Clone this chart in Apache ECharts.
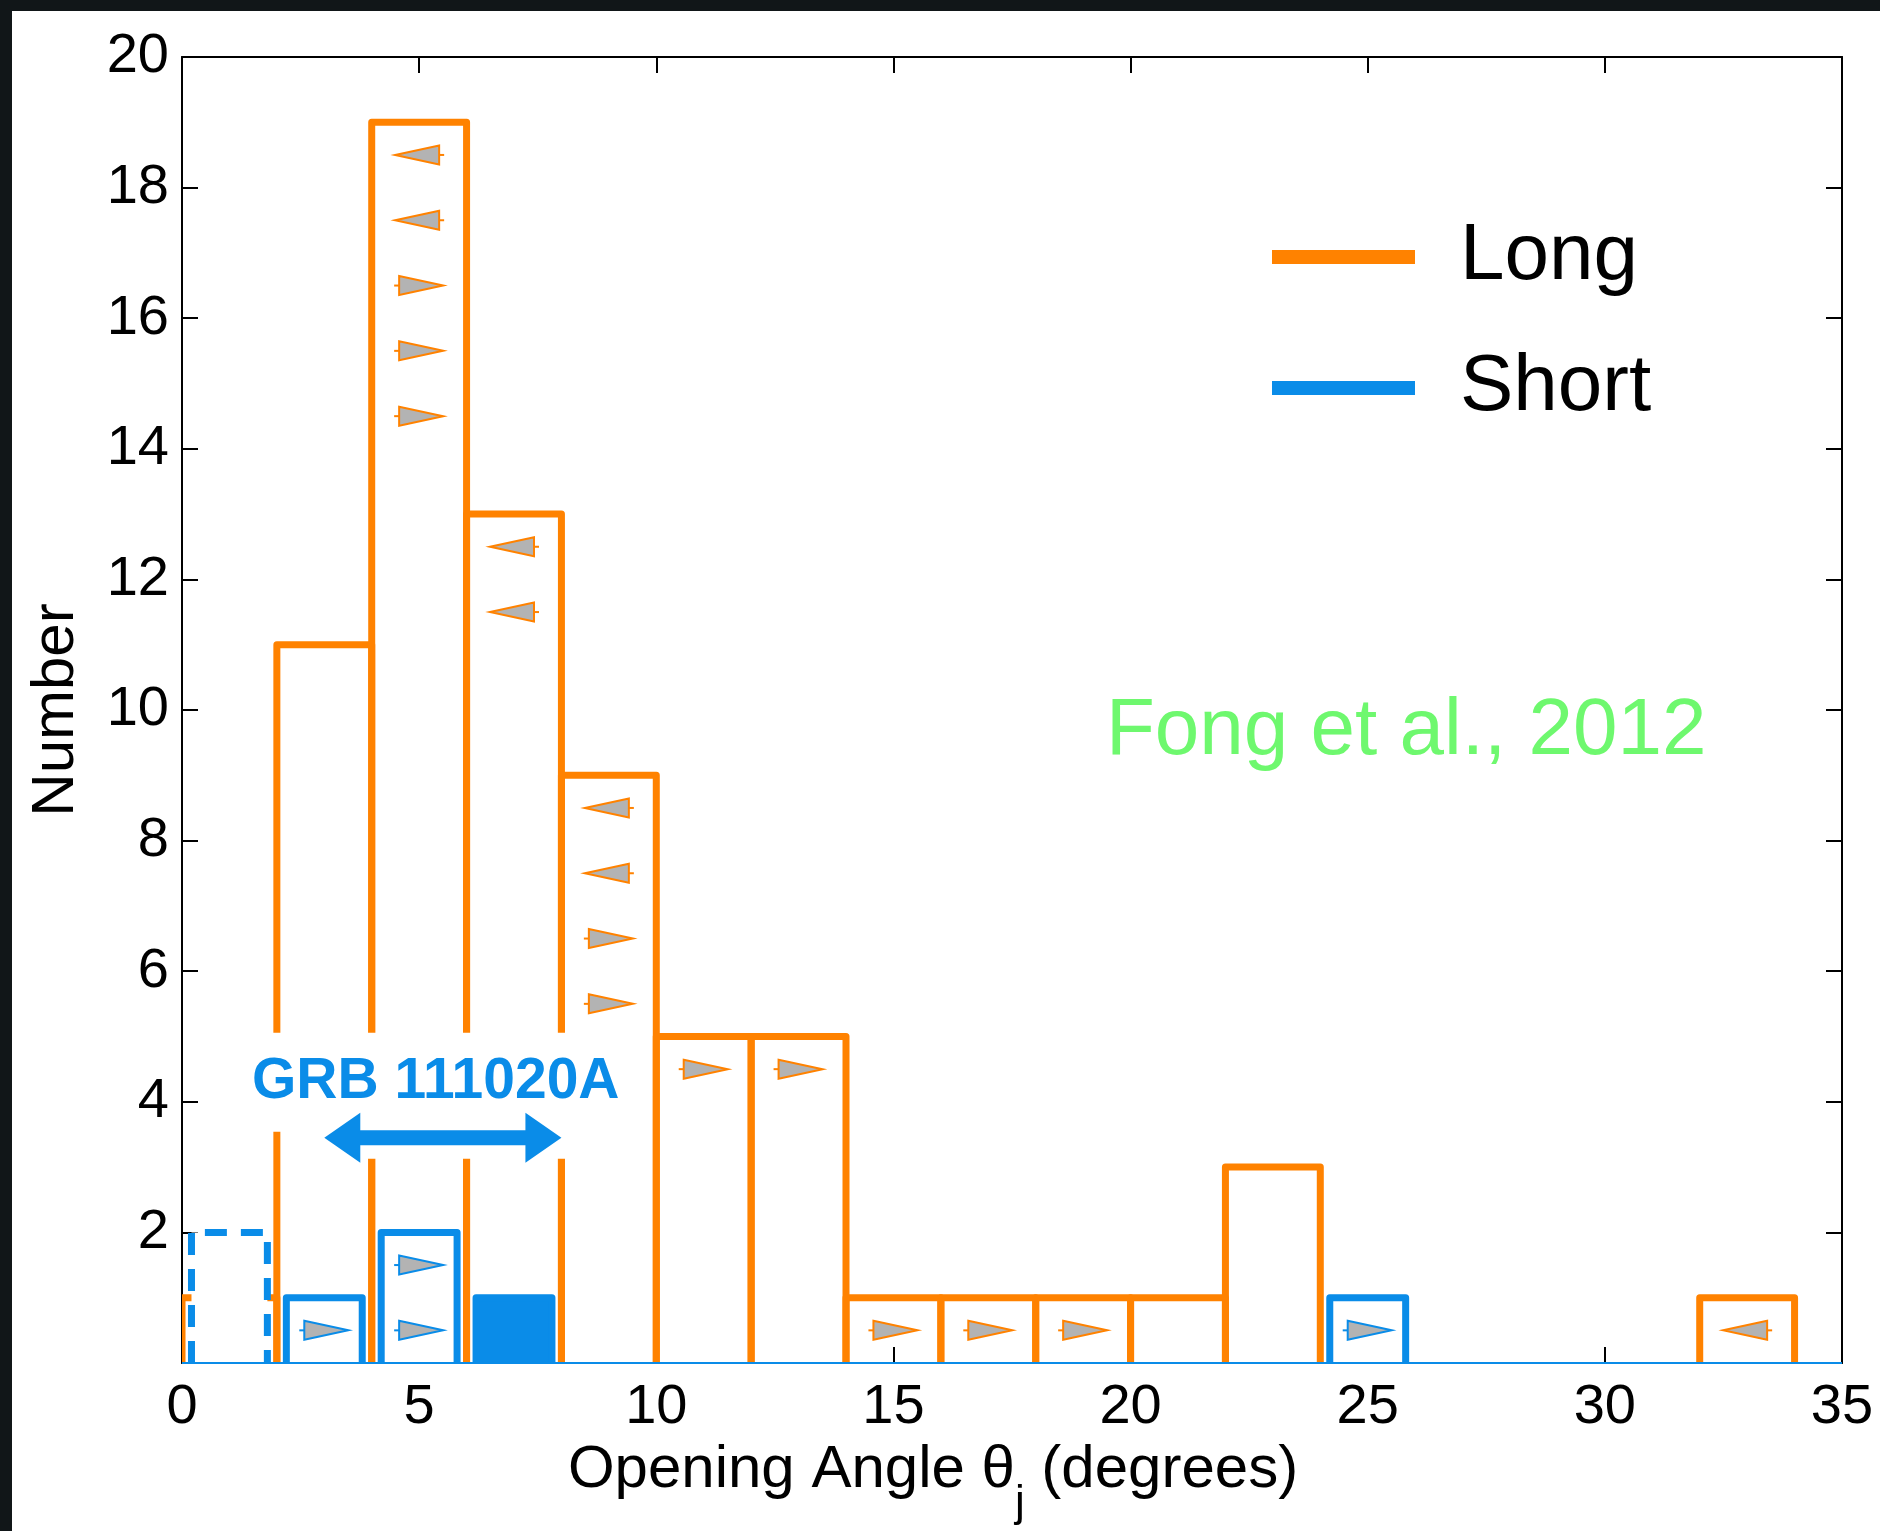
<!DOCTYPE html>
<html><head><meta charset="utf-8">
<script src="https://cdn.jsdelivr.net/npm/echarts@6/dist/echarts.min.js"></script>
<style>
html,body{margin:0;padding:0;background:#111618;width:1880px;height:1531px;overflow:hidden}
#chart{position:absolute;left:12px;top:11px;width:1868px;height:1520px;background:#fff}
</style></head><body><div id="chart"></div>
<script>
// Opening-angle histogram, 2-degree bins
const binStart = [0, 2, 4, 6, 8, 10, 12, 14, 16, 18, 20, 22, 24, 26, 28, 30, 32];
const binWidth = 2;
const longCounts = [1, 11, 19, 13, 9, 5, 5, 1, 1, 1, 1, 3, 0, 0, 0, 0, 1];
const shortCounts = [2, 1, 2, 1, 0, 0, 0, 0, 0, 0, 0, 0, 1, 0, 0, 0, 0];
const shortKinds = ['dashed', 'open', 'open', 'filled', '', '', '', '', '', '', '', '', 'open', '', '', '', ''];

// Limit markers: bin centre, stacking level, direction (-1 = upper limit, +1 = lower limit)
const longLimitX = [5, 5, 5, 5, 5, 7, 7, 9, 9, 9, 9, 11, 13, 15, 17, 19, 33];
const longLimitY = [18.5, 17.5, 16.5, 15.5, 14.5, 12.5, 11.5, 8.5, 7.5, 6.5, 5.5, 4.5, 4.5, 0.5, 0.5, 0.5, 0.5];
const longLimitDir = [-1, -1, 1, 1, 1, -1, -1, -1, -1, 1, 1, 1, 1, 1, 1, 1, -1];
const shortLimitX = [3, 5, 5, 25];
const shortLimitY = [0.5, 1.5, 0.5, 0.5];
const shortLimitDir = [1, 1, 1, 1];

// GRB 111020A range annotation
const grbLabel = 'GRB 111020A';
const grbLabelPos = [5.35, 4.3];
const grbRange = [3, 8];
const grbArrowLevel = 3.45;

// Axes
const xRange = [0, 35], xStep = 5;
const yRange = [0, 20], yStep = 2;
const xTitle = '{m|Opening Angle θ}{sub|j}{m| (degrees)}';
const yTitle = 'Number';
const seriesNames = ['Long', 'Short'];
const creditText = 'Fong et al., 2012';

const ORANGE = '#ff8200';
const BLUE = '#0a8ce8';
const GRAY = '#b3b3b3';
const GREEN = '#6ef86e';
const FONT = '"Liberation Sans", Arial, Helvetica, sans-serif';

const longData = binStart.map((s, i) => [s, s + binWidth, longCounts[i]]);
const shortData = binStart.map((s, i) => [s, s + binWidth, shortCounts[i], i]);
const longLimits = longLimitX.map((x, i) => [x, longLimitY[i], longLimitDir[i]]);
const shortLimits = shortLimitX.map((x, i) => [x, shortLimitY[i], shortLimitDir[i]]);

function barOutline(api, x0, x1, n) {
  return [api.coord([x0, 0]), api.coord([x0, n]), api.coord([x1, n]), api.coord([x1, 0])];
}

function renderLong(params, api) {
  const n = api.value(2);
  if (!n) return { type: 'group', children: [] };
  const pts = barOutline(api, api.value(0), api.value(1), n);
  return {
    type: 'polyline',
    shape: { points: pts },
    style: { stroke: ORANGE, lineWidth: 7, fill: null, lineJoin: 'round' }
  };
}

const shortInset = 0.2;
function renderShort(params, api) {
  const n = api.value(2);
  const kind = shortKinds[api.value(3)];
  if (!n || !kind) return { type: 'group', children: [] };
  const x0 = api.value(0) + shortInset, x1 = api.value(1) - shortInset;
  const pts = barOutline(api, x0, x1, n);
  const fill = kind === 'filled' ? BLUE : '#ffffff';
  return {
    type: 'group',
    children: [
      { type: 'rect', shape: { x: pts[1][0], y: pts[1][1], width: pts[2][0] - pts[1][0], height: pts[0][1] - pts[1][1] },
        style: { fill: fill, stroke: null } },
      { type: 'polyline', shape: { points: pts },
        style: { stroke: BLUE, lineWidth: 7, fill: null, lineJoin: 'round', lineDash: kind === 'dashed' ? [22, 14] : null } }
    ]
  };
}

function limitRenderer(color) {
  return function (params, api) {
    const c = api.coord([api.value(0), api.value(1)]);
    const d = api.value(2);
    const tip = c[0] + 24 * d, base = c[0] - 20 * d, stub = c[0] - 25 * d;
    return {
      type: 'group',
      children: [
        { type: 'line', shape: { x1: base, y1: c[1], x2: stub, y2: c[1] }, style: { stroke: color, lineWidth: 2 } },
        { type: 'polygon', shape: { points: [[tip, c[1]], [base, c[1] - 9.5], [base, c[1] + 9.5]] },
          style: { fill: GRAY, stroke: color, lineWidth: 2, lineJoin: 'miter' } }
      ]
    };
  };
}

function renderGrb(params, api) {
  const lab = api.coord([api.value(0), api.value(1)]);
  const L = api.coord([api.value(2), api.value(4)]);
  const R = api.coord([api.value(3), api.value(4)]);
  const cy = L[1], hl = 36, hh = 25, sh = 7.5;
  return {
    type: 'group',
    children: [
      { type: 'rect', shape: { x: L[0], y: cy - 25, width: R[0] - L[0] + 4, height: 46 }, style: { fill: '#ffffff' } },
      { type: 'text', x: lab[0], y: lab[1],
        style: { text: grbLabel, fill: BLUE, font: 'bold 57px ' + FONT, align: 'center', verticalAlign: 'middle',
                 backgroundColor: '#ffffff', padding: [12, 4, 30, 4] } },
      { type: 'polygon', shape: { points: [
          [L[0], cy], [L[0] + hl, cy - hh], [L[0] + hl, cy - sh], [R[0] - hl, cy - sh], [R[0] - hl, cy - hh],
          [R[0], cy], [R[0] - hl, cy + hh], [R[0] - hl, cy + sh], [L[0] + hl, cy + sh], [L[0] + hl, cy + hh]] },
        style: { fill: BLUE } }
    ]
  };
}

const axisCommon = {
  type: 'value',
  splitLine: { show: false },
  axisLine: { show: true, onZero: false, lineStyle: { color: '#000', width: 2 } },
  axisTick: { show: true, inside: true, length: 16, lineStyle: { color: '#000', width: 2 } }
};

const chart = echarts.init(document.getElementById('chart'));
chart.setOption({
  backgroundColor: '#ffffff',
  animation: false,
  grid: { left: 170, top: 46, width: 1660, height: 1306, containLabel: false },
  xAxis: [
    Object.assign({}, axisCommon, {
      min: xRange[0], max: xRange[1], interval: xStep, position: 'bottom',
      axisLabel: { fontSize: 56, fontFamily: FONT, color: '#000', margin: 17 },
      name: xTitle, nameLocation: 'middle', nameGap: 52,
      nameTextStyle: {
        padding: [0, 158, 0, 0],
        rich: {
          m: { fontSize: 60, fontFamily: FONT, color: '#000', lineHeight: 110 },
          sub: { fontSize: 44, fontFamily: FONT, color: '#000', lineHeight: 44, verticalAlign: 'bottom' }
        }
      }
    }),
    Object.assign({}, axisCommon, {
      min: xRange[0], max: xRange[1], interval: xStep, position: 'top', axisLabel: { show: false }
    })
  ],
  yAxis: [
    Object.assign({}, axisCommon, {
      min: yRange[0], max: yRange[1], interval: yStep, position: 'left',
      axisLabel: { fontSize: 56, fontFamily: FONT, color: '#000', margin: 13,
                   formatter: v => (v === 0 ? '' : String(v)) },
      name: yTitle, nameLocation: 'middle', nameGap: 96,
      nameTextStyle: { fontSize: 60, fontFamily: FONT, color: '#000', lineHeight: 60 }
    }),
    Object.assign({}, axisCommon, {
      min: yRange[0], max: yRange[1], interval: yStep, position: 'right', axisLabel: { show: false }
    })
  ],
  legend: {
    orient: 'vertical', left: 1255, top: 196, itemWidth: 143, itemHeight: 14, itemGap: 41,
    selectedMode: false, icon: 'rect',
    data: seriesNames,
    textStyle: { fontSize: 80, fontFamily: FONT, color: '#000', lineHeight: 90, padding: [0, 0, 0, 40] }
  },
  graphic: [
    { type: 'text', left: 1094, top: 681,
      style: { text: creditText, fill: GREEN, font: '80px ' + FONT } }
  ],
  series: [
    { name: seriesNames[0], type: 'custom', renderItem: renderLong, data: longData, clip: true,
      itemStyle: { color: ORANGE }, encode: { x: [0, 1], y: 2 }, z: 2, silent: true },
    { name: seriesNames[1], type: 'custom', renderItem: renderShort, data: shortData, clip: true,
      itemStyle: { color: BLUE }, encode: { x: [0, 1], y: 2 }, z: 3, silent: true,
      markLine: { silent: true, symbol: 'none', label: { show: false },
                  lineStyle: { color: BLUE, width: 2, type: 'solid' }, data: [{ yAxis: 0 }] } },
    { name: 'longLimits', type: 'custom', renderItem: limitRenderer(ORANGE), data: longLimits,
      encode: { x: 0, y: 1 }, z: 4, silent: true },
    { name: 'shortLimits', type: 'custom', renderItem: limitRenderer(BLUE), data: shortLimits,
      encode: { x: 0, y: 1 }, z: 4, silent: true },
    { name: 'grb', type: 'custom', renderItem: renderGrb,
      data: [[grbLabelPos[0], grbLabelPos[1], grbRange[0], grbRange[1], grbArrowLevel]],
      encode: { x: [0, 2, 3], y: [1, 4] }, z: 5, silent: true }
  ]
});
</script></body></html>
